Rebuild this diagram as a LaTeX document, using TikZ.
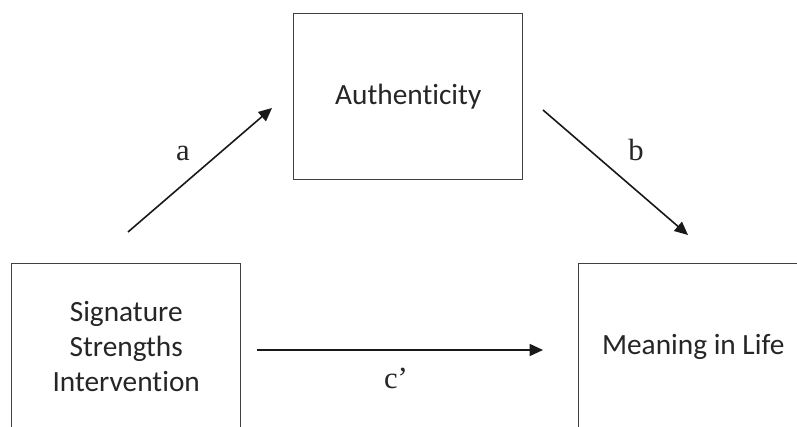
\documentclass[tikz,border=0pt]{standalone}
\usepackage{fontspec}
\setmainfont{Carlito}[Ligatures=NoCommon]
\newfontfamily\labelfont{Liberation Serif}
\usetikzlibrary{arrows.meta}
\begin{document}
\begin{tikzpicture}[x=0.75pt,y=-0.75pt,
  box/.style={draw=black!75, line width=1.1pt, minimum width=171.75pt, minimum height=124.5pt, anchor=north west, inner sep=0pt, align=center, text=black!85, font=\fontsize{22}{26.25}\selectfont},
  conn/.style={line width=1.2pt, draw=black!90, -{Triangle[length=10pt,width=9pt]}},
  lbl/.style={font=\labelfont\fontsize{23}{26}\selectfont, text=black!85, inner sep=0pt}]
\useasboundingbox (0,0) rectangle (797,427);
\clip (0,0) rectangle (797,427);
\fill[white] (0,0) rectangle (797,427);
\node[box] (auth) at (293,13) {Authenticity};
\node[box] (ssi) at (11,263) {Signature\\Strengths\\Intervention};
\node[box] (mil) at (578,263) {Meaning in Life};
\coordinate (a1) at (128,232);
\coordinate (a2) at (272,108);
\coordinate (b1) at (543,110);
\coordinate (b2) at (688,235);
\coordinate (c1) at (257,350);
\coordinate (c2) at (543,350);
\draw[conn] (a1) -- (a2);
\draw[conn] (b1) -- (b2);
\draw[conn] (c1) -- (c2);
\node[lbl] (la) at (183,153) {a};
\node[lbl] (lb) at (636,150) {b};
\node[lbl] (lc) at (396,378) {c’};
\end{tikzpicture}
\end{document}
